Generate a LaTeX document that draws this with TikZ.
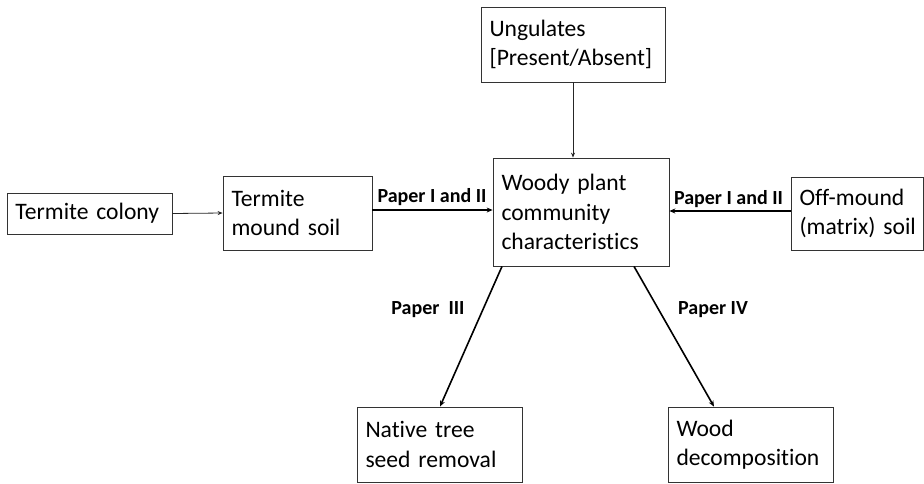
\documentclass[tikz,border=0pt]{standalone}
\usepackage{fontspec}
\setmainfont{Carlito}[Ligatures=NoCommon]
\usetikzlibrary{arrows.meta}
\begin{document}
\begin{tikzpicture}[x=1pt,y=-1pt,
  box/.style={draw=black!80, line width=0.8pt, inner xsep=8.5pt, inner ysep=0pt, align=left,
    font=\fontsize{23.6}{29.5}\selectfont, anchor=center},
  thinarrow/.style={draw=black!85, line width=0.8pt, -{Stealth[length=5pt,width=4pt]}},
  thickarrow/.style={draw=black, line width=1.6pt, -{Stealth[length=6pt,width=5pt]}},
  lbl/.style={font=\fontsize{20}{22}\selectfont\bfseries, inner sep=0pt}]
\useasboundingbox (0,0) rectangle (924,483);
\node[box, minimum width=165pt, minimum height=41pt, text width=148pt] (colony) at (89.5,213.5) {Termite colony};
\node[box, minimum width=149pt, minimum height=74pt, text width=132pt] (mound) at (297.5,213) {Termite\\mound soil};
\node[box, minimum width=184pt, minimum height=75pt, text width=167pt] (ung) at (573,44.5) {Ungulates\\{[}Present/Absent{]}};
\node[box, minimum width=176pt, minimum height=108pt, text width=159pt] (woody) at (581,212) {Woody plant\\community\\characteristics};
\node[box, minimum width=132pt, minimum height=73pt, text width=115pt] (off) at (857,213.5) {Off-mound\\\mbox{(matrix) soil}};
\node[box, minimum width=165pt, minimum height=75pt, text width=148pt] (seed) at (439.5,444.5) {Native tree\\seed removal};
\node[box, minimum width=165pt, minimum height=75pt, text width=148pt] (decomp) at (750.5,444.5) {Wood\\decomposition};

\draw[thinarrow] (colony.east) -- (mound.west);
\draw[thinarrow] (ung.south) -- (woody.north -| ung.south);
\draw[thickarrow] ([yshift=3pt]mound.east) -- ([yshift=3pt]mound.east -| woody.west);
\draw[thickarrow] ([yshift=2.5pt]off.west) -- ([yshift=2.5pt]off.west -| woody.east);
\draw[thickarrow] ([xshift=-79pt]woody.south) -- ([xshift=0.5pt]seed.north);
\draw[thickarrow] ([xshift=53pt]woody.south) -- ([xshift=-36.5pt]decomp.north);

\node[lbl] (l1) at (432,197) {Paper I and II};
\node[lbl] (l2) at (728.5,199) {Paper I and II};
\node[lbl] (l3) at (428,310) {Paper\ \ III};
\node[lbl] (l4) at (713,310) {Paper IV};
\end{tikzpicture}
\end{document}
